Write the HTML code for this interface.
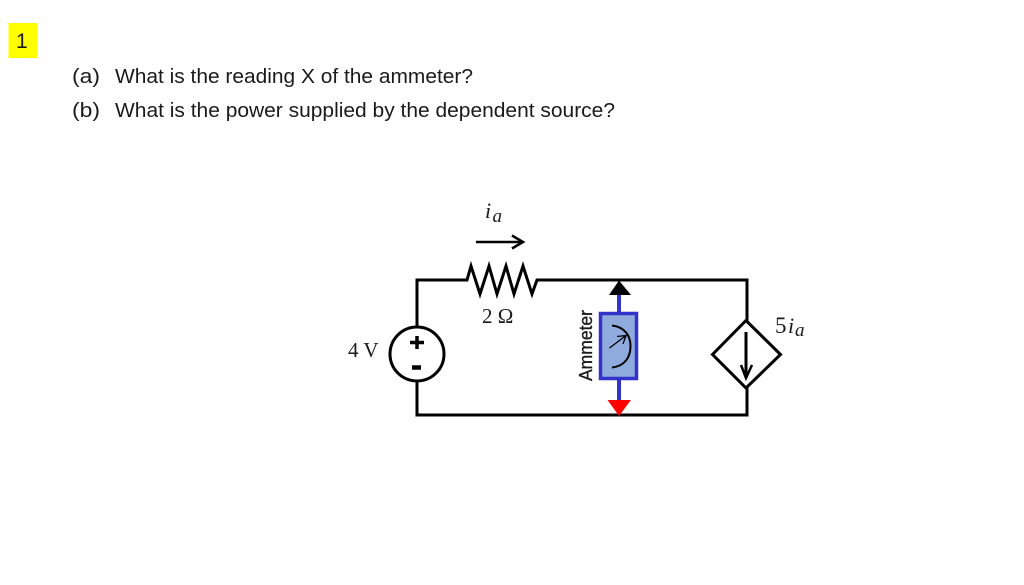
<!DOCTYPE html>
<html>
<head>
<meta charset="utf-8">
<style>
html,body{margin:0;padding:0;background:#fff;width:1024px;height:585px;overflow:hidden}
svg{display:block}
.t{font-family:"Liberation Sans",sans-serif;font-size:20px;fill:#1a1a1a}
.s{font-family:"Liberation Serif",serif;font-size:21px;fill:#1a1a1a}
.i{font-family:"Liberation Serif",serif;font-style:italic;fill:#1a1a1a}
</style>
</head>
<body>
<svg width="1024" height="585" viewBox="0 0 1024 585" xmlns="http://www.w3.org/2000/svg">
<rect width="1024" height="585" fill="#fff"/>
<rect x="8.5" y="23" width="28.5" height="35" fill="#ffff00"/>
<text class="t" x="16" y="48" style="font-size:21px">1</text>
<text class="t" x="72" y="83" textLength="28" lengthAdjust="spacingAndGlyphs">(a)</text>
<text class="t" x="115" y="83" textLength="358" lengthAdjust="spacingAndGlyphs">What is the reading X of the ammeter?</text>
<text class="t" x="72" y="117" textLength="28" lengthAdjust="spacingAndGlyphs">(b)</text>
<text class="t" x="115" y="117" textLength="500" lengthAdjust="spacingAndGlyphs">What is the power supplied by the dependent source?</text>

<g fill="none" stroke="#000" stroke-width="3">
<path d="M417 327V280H467L471 266L480 294L489 266L497 294L506 266L514 294L523 266L532 294L537 280H747V321"/>
<path d="M417 381V415H747V388"/>
<circle cx="417" cy="354" r="27"/>
<path d="M746 320.5L780.5 354.5L746 388L712.5 354.5Z"/>
<path d="M746 332V377"/>
<path d="M741 365L746 378L752 365" stroke-width="2.5"/>
<path d="M476 242H522" stroke-width="2.5"/>
<path d="M512 235.5L523 242L512 248.500" stroke-width="2.5"/>
</g>
<path d="M417 336V349M410 342.500H424" stroke="#000" stroke-width="3.500" fill="none"/>
<path d="M412 367.500H421" stroke="#000" stroke-width="4.500" fill="none"/>

<path d="M619 292V313M619 378V402" stroke="#3333cc" stroke-width="4" fill="none"/>
<rect x="600.500" y="313.500" width="36" height="65" fill="#8faadc" stroke="#3333cc" stroke-width="3.500"/>
<path d="M612 325.500C625 327 630.500 336 630.500 346C630.500 357 625 366 612 367.500" fill="none" stroke="#000" stroke-width="2"/>
<path d="M609.500 348L626 335.500M617 336.500L626 335.500L623 344" fill="none" stroke="#000" stroke-width="1.300"/>
<path d="M619 280.500L631 295H609Z" fill="#000"/>
<path d="M607.500 400H631L619 416Z" fill="#ff0000"/>

<text class="t" transform="translate(592 381) rotate(-90)" textLength="71" lengthAdjust="spacingAndGlyphs" style="font-size:18px;stroke:#1a1a1a;stroke-width:0.35">Ammeter</text>
<text class="s" x="482" y="323">2 Ω</text>
<text class="s" x="348" y="357">4 V</text>
<text class="i" x="485" y="218" style="font-size:22px">i</text>
<text class="i" x="492.500" y="222" style="font-size:19px">a</text>
<text class="s" x="775" y="333" style="font-size:23px">5</text>
<text class="i" x="788" y="333" style="font-size:22px">i</text>
<text class="i" x="795" y="336" style="font-size:19px">a</text>
</svg>
</body>
</html>
